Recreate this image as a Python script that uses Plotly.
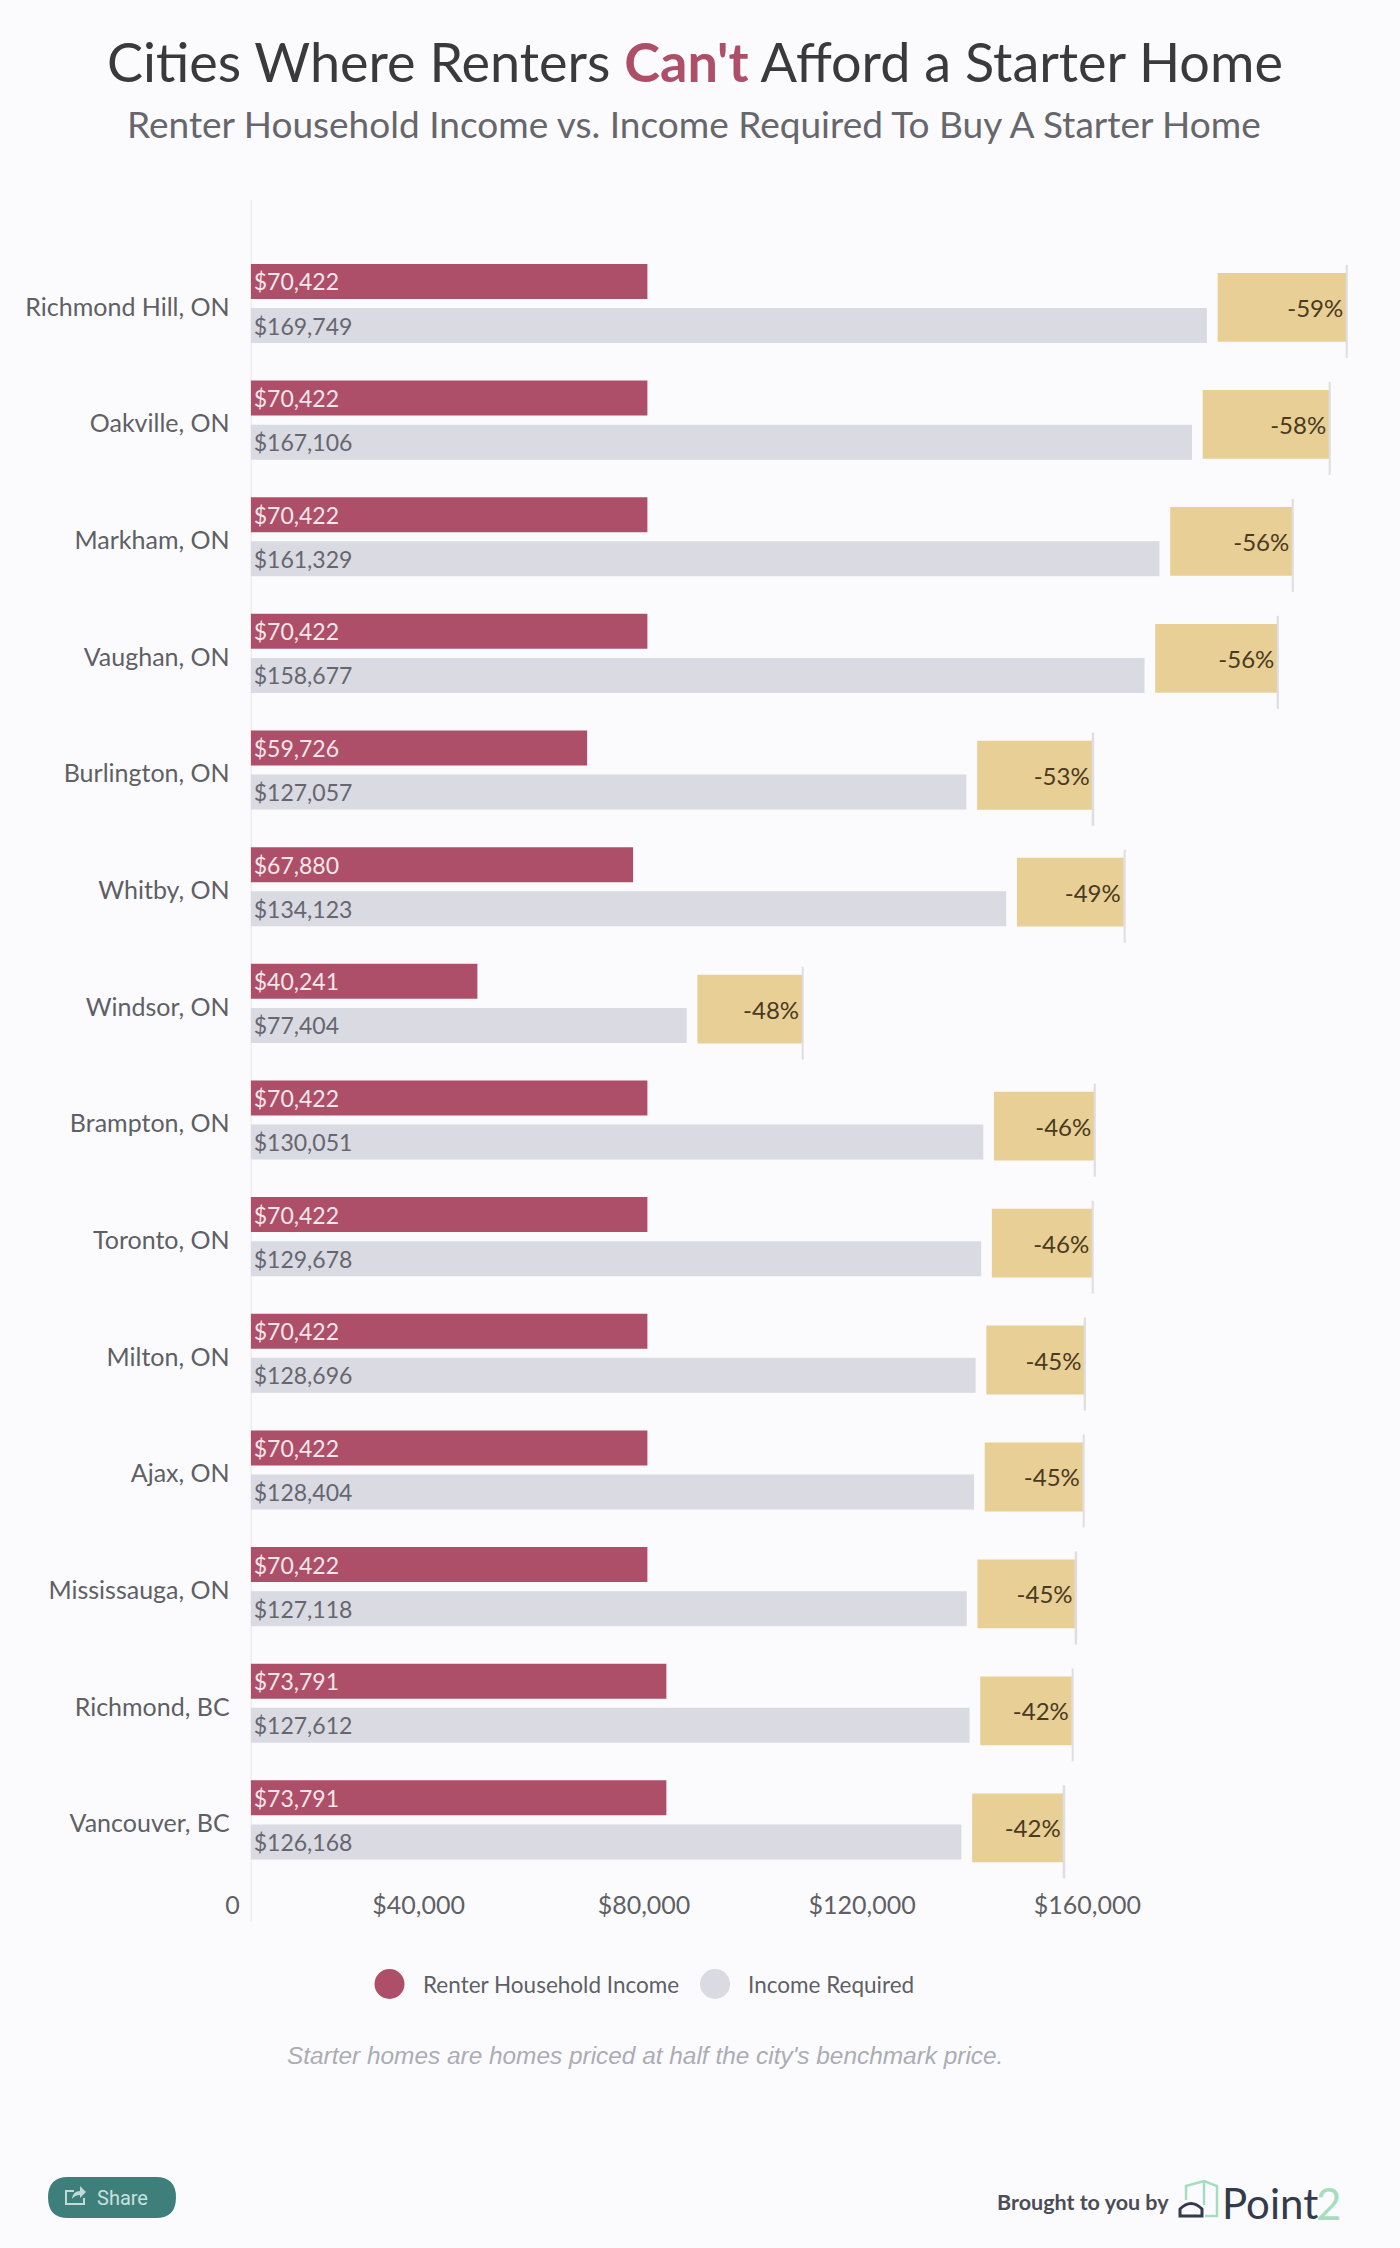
import plotly.graph_objects as go

# 数据
cities = ["Richmond Hill, ON", "Oakville, ON", "Markham, ON", "Vaughan, ON", "Burlington, ON",
          "Whitby, ON", "Windsor, ON", "Brampton, ON", "Toronto, ON", "Milton, ON",
          "Ajax, ON", "Mississauga, ON", "Richmond, BC", "Vancouver, BC"]
renter_income = [70422, 70422, 70422, 70422, 59726, 67880, 40241,
                 70422, 70422, 70422, 70422, 70422, 73791, 73791]
income_required = [169749, 167106, 161329, 158677, 127057, 134123, 77404,
                   130051, 129678, 128696, 128404, 127118, 127612, 126168]
gap_pct = [59, 58, 56, 56, 53, 49, 48, 46, 46, 45, 45, 45, 42, 42]
tick_vals = [0, 40000, 80000, 120000, 160000]
tick_text = ["0", "$40,000", "$80,000", "$120,000", "$160,000"]

W, H = 1400, 2248
FONT = "Lato"
RED = "#AD4F68"
GREY = "#D9DAE2"
GOLD = "#E8CF95"
BG = "#FBFBFD"

# 比例：每美元多少像素
px_per_dollar = 5.633 / 1000
axis_left = 250.7
gold_gap = 1900        # 灰条和金条之间的空隙（美元）
gold_per_pct = 387     # 金条每 1% 的长度（美元）
end_line = 280         # 金条右端细线的粗细（美元）
gold_drift = 0.0026    # 原图金条每行略微下移


def px(x):
    return x / W


def py(y):
    return 1 - y / H


def path(cmds):
    # 把像素坐标的路径转成 paper 坐标
    out = []
    for c in cmds:
        out.append(c[0] + " ".join(f"{px(c[i]):.5f},{py(c[i + 1]):.5f}" for i in range(1, len(c), 2)))
    return " ".join(out)


gold_base = [v + gold_gap for v in income_required]
gold_width = [p * gold_per_pct for p in gap_pct]
gold_end = [b + w for b, w in zip(gold_base, gold_width)]
rows = range(len(cities))

fig = go.Figure()
fig.add_bar(y=cities, x=income_required, orientation="h", name="Income Required",
            marker=dict(color=GREY, line_width=0), width=0.30, offset=0.043,
            text=[f"${v:,}" for v in income_required], textposition="inside",
            insidetextanchor="start", textangle=0, constraintext="none",
            textfont=dict(color="#666670", size=23, family=FONT), showlegend=False)
fig.add_bar(y=cities, x=renter_income, orientation="h", name="Renter Household Income",
            marker=dict(color=RED, line_width=0), width=0.30, offset=-0.335,
            text=[f"${v:,}" for v in renter_income], textposition="inside",
            insidetextanchor="start", textangle=0, constraintext="none",
            textfont=dict(color="#F6E6EA", size=23, family=FONT), showlegend=False)
fig.add_bar(y=cities, x=gold_width, base=gold_base, orientation="h", name="Gap",
            marker=dict(color=GOLD, line_width=0), width=0.59, offset=[-0.257 + i * gold_drift for i in rows],
            text=[f"-{p}%" for p in gap_pct], textposition="inside",
            insidetextanchor="end", textangle=0, constraintext="none",
            textfont=dict(color="#4A3A22", size=24, family=FONT), showlegend=False)
fig.add_bar(y=cities, x=[end_line] * len(cities), base=gold_end, orientation="h",
            marker=dict(color="#DEDEE2", line_width=0), width=0.797, offset=[-0.326 + i * gold_drift for i in rows],
            showlegend=False, hoverinfo="skip")

y_top, y_bottom = 200, 1885
center0, step = 303, 116.65

shapes = [
    # 纵轴线
    dict(type="line", xref="x", yref="paper", x0=0, x1=0, y0=py(1922), y1=py(y_top),
         line=dict(color="#E6E6EA", width=2), layer="below"),
    # 图例圆点
    dict(type="circle", xref="paper", yref="paper", x0=px(374.5), x1=px(404.5), y0=py(1999), y1=py(1969),
         fillcolor=RED, line_width=0),
    dict(type="circle", xref="paper", yref="paper", x0=px(700), x1=px(730), y0=py(1999), y1=py(1969),
         fillcolor=GREY, line_width=0),
    # Share 按钮
    dict(type="path", xref="paper", yref="paper", fillcolor="#3F7F7B", line_width=0,
         path=path([("M", 68, 2177), ("L", 156, 2177), ("Q", 176, 2177, 176, 2197.5), ("Q", 176, 2218, 156, 2218),
                    ("L", 68, 2218), ("Q", 48, 2218, 48, 2197.5), ("Q", 48, 2177, 68, 2177), ("Z",)])),
    dict(type="path", xref="paper", yref="paper", line=dict(color="#BFDAD7", width=2),
         path=path([("M", 74, 2191), ("L", 66, 2191), ("L", 66, 2204), ("L", 84, 2204), ("L", 84, 2198)])),
    dict(type="path", xref="paper", yref="paper", fillcolor="#BFDAD7", line_width=0,
         path=path([("M", 72, 2199), ("Q", 73, 2191, 80, 2191), ("L", 80, 2186), ("L", 86, 2192),
                    ("L", 80, 2198), ("L", 80, 2195), ("Q", 75, 2195, 72, 2199), ("Z",)])),
    # Point2 标志
    dict(type="path", xref="paper", yref="paper", line=dict(color="#A6DDC0", width=2.5),
         path=path([("M", 1186, 2200), ("L", 1186, 2186), ("L", 1204, 2181), ("L", 1217, 2186),
                    ("L", 1217, 2216), ("L", 1205, 2216)])),
    dict(type="path", xref="paper", yref="paper", line=dict(color="#A6DDC0", width=2.5),
         path=path([("M", 1204, 2181), ("L", 1204, 2205)])),
    dict(type="path", xref="paper", yref="paper", line=dict(color="#333A4A", width=3),
         path=path([("M", 1180, 2216), ("L", 1180, 2209), ("Q", 1191, 2198, 1202, 2209), ("L", 1202, 2216), ("Z",)])),
]


def note(x, y, text, size, color, anchor="center", family=FONT):
    fig.add_annotation(xref="paper", yref="paper", x=px(x), y=py(y), text=text, showarrow=False,
                       xanchor=anchor, yanchor="middle",
                       font=dict(size=size, color=color, family=family))


note(695, 62, f'Cities Where Renters <b><span style="color:{RED}">Can\'t</span></b> Afford a Starter Home',
     54, "#3A3A3C")
note(694, 124, "Renter Household Income vs. Income Required To Buy A Starter Home", 37, "#66666C")
note(421, 1984, "Renter Household Income", 22.5, "#5F5F66", "left")
note(746, 1984, "Income Required", 22.5, "#5F5F66", "left")
note(645, 2055, "<i>Starter homes are homes priced at half the city's benchmark price.</i>", 24.4, "#ACACB4",
     family="Liberation Sans")
note(95, 2198, "Share", 20, "#C8E0DD", "left", "Roboto")
note(995, 2202, "<b>Brought to you by</b>", 21.5, "#4C4C56", "left", "Lato")
note(1220, 2203, "Point", 42, "#333A4A", "left", "Lato")
note(1314, 2203, "2", 44, "#A6DDC0", "left", "Lato")

fig.update_layout(
    width=W, height=H, autosize=False, margin=dict(l=0, r=0, t=0, b=0, pad=0),
    paper_bgcolor=BG, plot_bgcolor=BG, barmode="overlay", shapes=shapes,
    font=dict(family=FONT, color="#55555C"),
    xaxis=dict(domain=[px(axis_left), 1], range=[0, (W - axis_left) / px_per_dollar],
               tickmode="array", tickvals=tick_vals, ticktext=tick_text,
               ticklabelposition="outside left", ticklabelshift=-11, ticklabelstandoff=3,
               ticks="", showgrid=False, zeroline=False, showline=False,
               tickfont=dict(size=25, color="#5F5F66"), automargin=False),
    yaxis=dict(domain=[py(y_bottom), py(y_top)], type="category", categoryorder="array", categoryarray=cities,
               range=[(y_bottom - center0) / step, (y_top - center0) / step],
               ticks="", showgrid=False, zeroline=False, showline=False, ticklabelstandoff=20, ticklabelshift=-4,
               tickfont=dict(size=25, color="#5F5F66"), automargin=False),
)

# 去掉页面默认边距，让图贴齐窗口
fig.write_html("out.html", config={"displayModeBar": False}, post_script="document.body.style.margin='0';")
